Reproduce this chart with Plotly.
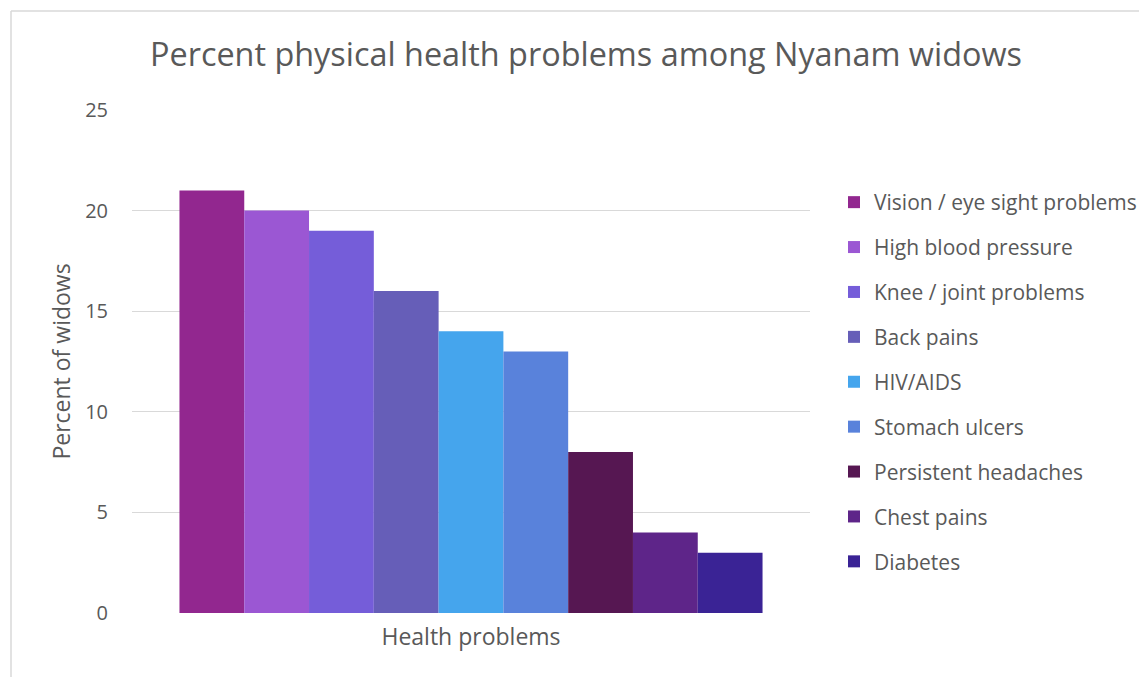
import plotly.graph_objects as go

categories = ["Vision / eye sight problems", "High blood pressure", "Knee / joint problems",
              "Back pains", "HIV/AIDS", "Stomach ulcers", "Persistent headaches",
              "Chest pains", "Diabetes"]
values = [21, 20, 19, 16, 14, 13, 8, 4, 3]
colors = ["#92278F", "#9B57D3", "#755DD9", "#665EB8", "#45A5ED", "#5982DB",
          "#561752", "#5E2589", "#3A2395"]
x_label = [""]

OFF = 8  # page body margin
W, H = 1147 - OFF, 677 - OFF
# plot area in screen coords: x 132..810, y 110..613
L, T = 132 - OFF, 110 - OFF
R = W - (810 - OFF)
B = H - (613 - OFF)
pw, ph = W - L - R, H - T - B

def px(sx):
    return (sx - OFF - L) / pw

def py(sy):
    return (H - B - (sy - OFF)) / ph

FONT = "Open Sans"
TXT = "#595959"

fig = go.Figure()
for i, (name, v, c) in enumerate(zip(categories, values, colors)):
    fig.add_trace(go.Bar(x=x_label, y=[v], name=name, marker=dict(color=c, line=dict(width=0)),
                         legendgroup=f"g{i}"))

fig.update_layout(
    width=W, height=H,
    margin=dict(l=L, r=R, t=T, b=B, autoexpand=False),
    paper_bgcolor="white", plot_bgcolor="white",
    barmode="group", bargap=0.14, bargroupgap=0,
    font=dict(family=FONT, color=TXT, size=20),
    title=dict(text="Percent physical health problems among Nyanam widows",
               xref="container", yref="container", x=(586 - OFF) / W, y=1 - (55 - OFF) / H,
               xanchor="center", yanchor="middle",
               font=dict(size=32.4, color=TXT, family=FONT)),
    xaxis=dict(showticklabels=False, showgrid=False, zeroline=False, showline=False,
               title=dict(text="Health problems", font=dict(size=23, color=TXT), standoff=15)),
    yaxis=dict(range=[0, 25], dtick=5, tick0=0, showgrid=True, gridcolor="#D9D9D9",
               gridwidth=1, zeroline=False, showline=False, ticks="",
               ticklabelstandoff=23, tickfont=dict(size=20, color=TXT),
               title=dict(text="Percent of widows", font=dict(size=23, color=TXT), standoff=8)),
    legend=dict(x=px(834), y=py(182), xanchor="left", yanchor="top",
                font=dict(size=21, color=TXT), tracegroupgap=14.6,
                itemwidth=30, bgcolor="rgba(0,0,0,0)"),
    showlegend=True,
    shapes=[
        dict(type="line", xref="paper", yref="paper", x0=px(11), x1=px(1160), y0=py(11), y1=py(11),
             line=dict(color="#D9D9D9", width=1.5)),
        dict(type="line", xref="paper", yref="paper", x0=px(11), x1=px(11), y0=py(11), y1=py(700),
             line=dict(color="#D9D9D9", width=1.5)),
    ],
)

fig.write_html("out.html")
